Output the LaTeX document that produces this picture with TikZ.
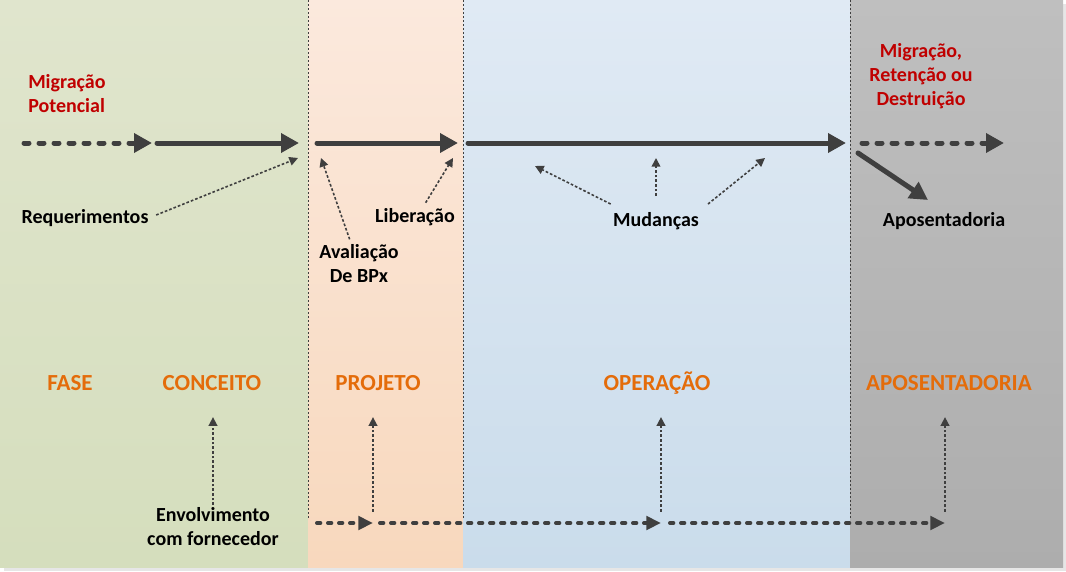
\documentclass[tikz,border=0pt]{standalone}
\usepackage{fontspec}
\setmainfont{Carlito}
\usetikzlibrary{arrows.meta,positioning}

\definecolor{cinzaseta}{HTML}{3F3F3F}
\definecolor{vermelhotxt}{HTML}{C00000}
\definecolor{laranjatxt}{HTML}{E46C0A}
\definecolor{verdeA}{HTML}{E0E5CD}
\definecolor{verdeB}{HTML}{D5DEBD}
\definecolor{pessegoA}{HTML}{FBE9DD}
\definecolor{pessegoB}{HTML}{F8D8BD}
\definecolor{azulA}{HTML}{E0EAF4}
\definecolor{azulB}{HTML}{CADCEB}
\definecolor{cinzaA}{HTML}{BFBFBF}
\definecolor{cinzaB}{HTML}{ADADAD}
\definecolor{sombra}{HTML}{E6E6E6}

\tikzset{%
	rotulo/.style={font=\fontsize{15}{18}\selectfont\bfseries,inner sep=0pt,align=center},%
	rotuloverm/.style={rotulo,text=vermelhotxt},%
	fase/.style={font=\fontsize{17.25}{20}\selectfont\bfseries,text=laranjatxt,inner sep=0pt},%
	setagrossa/.style={draw=cinzaseta,line width=3.75pt,line cap=round,-{Triangle[length=13.5pt,width=14pt]}},%
	setatracejada/.style={setagrossa,dash pattern=on 3.75pt off 7.5pt},%
	setafina/.style={draw=cinzaseta,line width=1.2pt,dash pattern=on 2pt off 1.5pt,-{Triangle[length=6.5pt,width=6.5pt]}},%
	setapontos/.style={draw=cinzaseta,line width=3pt,line cap=round,dash pattern=on 2.5pt off 5.75pt,-{Triangle[length=11pt,width=10pt]}},%
	divisoria/.style={draw=cinzaseta,line width=0.75pt,dash pattern=on 1.5pt off 1.5pt}%
}

\begin{document}
\begin{tikzpicture}[x=0.75pt,y=-0.75pt] % ciclo de vida em fases
\useasboundingbox (0,0) rectangle (1066,571);
\fill[sombra] (4,4) rectangle (1066,571);
\foreach \xa/\xb/\ct/\cb in%
{%
	0/308/verdeA/verdeB,308/463/pessegoA/pessegoB,463/850/azulA/azulB,850/1063/cinzaA/cinzaB%
}{%
	\shade[top color=\ct,bottom color=\cb] (\xa,0) rectangle (\xb,567);
}%
\foreach \x in {308,463,850}{%
	\draw[divisoria] (\x,0) -- (\x,520);
}%

\node[rotuloverm,align=left,anchor=west] (migpot) at (28,94) {Migração\\Potencial};
\node[rotuloverm] (migret) at (921,76) {Migração,\\Retenção ou\\Destruição};
\node[rotulo] (req) at (85,218) {Requerimentos};
\node[rotulo] (aval) at (359,264) {Avaliação\\De BPx};
\node[rotulo] (lib) at (415,217) {Liberação};
\node[rotulo] (mud) at (656,221) {Mudanças};
\node[rotulo] (apos) at (944,221) {Aposentadoria};
\node[rotulo] (envolv) at (213,527) {Envolvimento\\com fornecedor};

\node[fase] (fase) at (70,383) {FASE};
\node[fase] (conceito) at (212,383) {CONCEITO};
\node[fase] (projeto) at (378,383) {PROJETO};
\node[fase] (operacao) at (657,383) {OPERAÇÃO};
\node[fase] (aposfase) at (949,383) {APOSENTADORIA};

\coordinate (a0) at (24,143);
\coordinate (a1) at (152,143);
\coordinate (a2) at (157,143);
\coordinate (a3) at (299,143);
\coordinate (a4) at (317,143);
\coordinate (a5) at (458,143);
\coordinate (a6) at (468,143);
\coordinate (a7) at (846,143);
\coordinate (a8) at (862,143);
\coordinate (a9) at (1004,143);
\coordinate (d0) at (858,153);
\coordinate (d1) at (928,200);

\draw[setatracejada] (a0) -- (a1);
\draw[setagrossa] (a2) -- (a3);
\draw[setagrossa] (a4) -- (a5);
\draw[setagrossa] (a6) -- (a7);
\draw[setatracejada] (a8) -- (a9);
\draw[setagrossa] (d0) -- (d1);

\coordinate (r1) at (298,158);
\coordinate (r2) at (321,158);
\coordinate (r3) at (453,158);
\coordinate (m1) at (535,166);
\coordinate (m2) at (656,158);
\coordinate (m3) at (765,158);
\draw[setafina,shorten <=6pt] (req.east) -- (r1);
\draw[setafina] ([xshift=-7pt,yshift=4pt]aval.north) -- (r2);
\draw[setafina] ([xshift=8pt,yshift=4pt]lib.north) -- (r3);
\draw[setafina] ([xshift=-34pt,yshift=6pt]mud.north) -- (m1);
\draw[setafina] ([yshift=12pt]mud.north) -- (m2);
\draw[setafina] ([xshift=39pt,yshift=6pt]mud.north) -- (m3);

\coordinate (b0) at (317,523);
\coordinate (b1) at (373,523);
\coordinate (b2) at (380,523);
\coordinate (b3) at (661,523);
\coordinate (b4) at (670,523);
\coordinate (b5) at (945,523);
\draw[setapontos] (b0) -- (b1);
\draw[setapontos] (b2) -- (b3);
\draw[setapontos] (b4) -- (b5);

\draw[setafina,shorten <=2pt,shorten >=20pt] (envolv.north) -- (envolv.north |- conceito.base);
\foreach \pt/\rot in {b1/projeto,b3/operacao,b5/aposfase}{%
	\draw[setafina,shorten <=8.5pt,shorten >=20pt] (\pt) -- (\pt |- \rot.base);
}%
\end{tikzpicture}
\end{document}
